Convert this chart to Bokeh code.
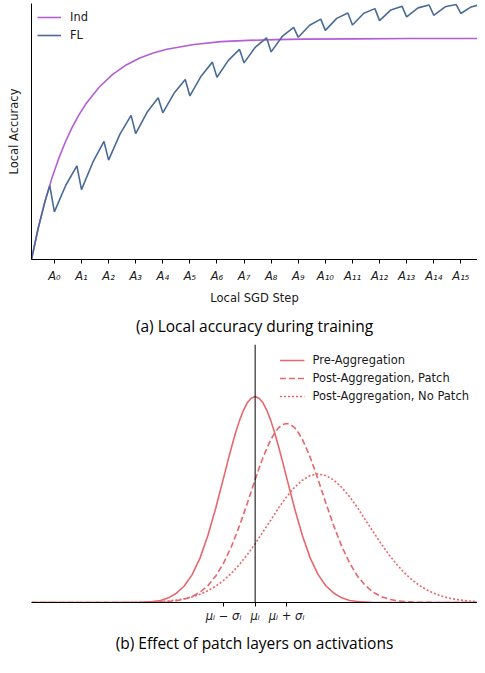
from bokeh.plotting import figure
from bokeh.models import FixedTicker, Span, Title, Legend, LegendItem
from bokeh.layouts import column
from bokeh.embed import file_html
from bokeh.resources import INLINE

# ---------------- panel (a): local accuracy ----------------
TICK_POS = [0, 1, 2, 3, 4, 5, 6, 7, 8, 9, 10, 11, 12, 13, 14, 15]
TICK_LABELS = ["A₀", "A₁", "A₂", "A₃", "A₄", "A₅", "A₆", "A₇",
               "A₈", "A₉", "A₁₀", "A₁₁", "A₁₂", "A₁₃", "A₁₄", "A₁₅"]

IND_X = [-0.845, -0.6, -0.35, -0.1, 0.15, 0.4, 0.65, 0.9, 1.15, 1.65, 2.15, 2.65,
         3.15, 3.65, 4.15, 5.15, 6.15, 7.15, 8.15, 9.15, 11.15, 13.15, 15.615]
IND_Y = [0.0, 0.121, 0.226, 0.315, 0.392, 0.458, 0.515, 0.564, 0.606, 0.673, 0.723, 0.760,
         0.787, 0.807, 0.821, 0.840, 0.851, 0.856, 0.859, 0.861, 0.862, 0.863, 0.863]

FL_X = [-0.845, -0.6, -0.35, -0.17, 0.0,
        0.42, 0.83, 1.0, 1.42, 1.83, 2.0, 2.42, 2.83, 3.0, 3.42, 3.83, 4.0,
        4.42, 4.83, 5.0, 5.42, 5.83, 6.0, 6.42, 6.83, 7.0, 7.42, 7.83, 8.0,
        8.42, 8.83, 9.0, 9.42, 9.83, 10.0, 10.42, 10.83, 11.0, 11.42, 11.83, 12.0,
        12.42, 12.83, 13.0, 13.42, 13.83, 14.0, 14.42, 14.83, 15.0,
        15.35, 15.615]
FL_Y = [0.0, 0.121, 0.226, 0.289, 0.186,
        0.29, 0.366, 0.273, 0.38, 0.461, 0.388, 0.49, 0.563, 0.492, 0.575, 0.632, 0.573,
        0.65, 0.703, 0.639, 0.717, 0.771, 0.712, 0.778, 0.821, 0.768, 0.83, 0.866, 0.811,
        0.873, 0.907, 0.868, 0.915, 0.939, 0.895, 0.942, 0.963, 0.916, 0.962, 0.980, 0.933,
        0.975, 0.989, 0.948, 0.983, 0.994, 0.954, 0.987, 0.996, 0.961,
        0.985, 0.993]

# ---------------- panel (b): activations ----------------
PRE_X = [-7.1, -3.75, -3.5, -3.25, -3.0, -2.75, -2.5, -2.25, -2.0, -1.75, -1.5, -1.25, -1.0,
         -0.875, -0.75, -0.625, -0.5, -0.375, -0.25, -0.125, 0.0, 0.125, 0.25, 0.375, 0.5,
         0.625, 0.75, 0.875, 1.0, 1.25, 1.5, 1.75, 2.0, 2.25, 2.5, 2.75, 3.0, 3.25, 3.5, 3.75, 7.06]
PRE_Y = [0.0, 0.0, 0.001, 0.002, 0.004, 0.009, 0.018, 0.032, 0.054, 0.086, 0.130, 0.183, 0.242,
         0.272, 0.301, 0.328, 0.352, 0.372, 0.387, 0.396, 0.399, 0.396, 0.387, 0.372, 0.352,
         0.328, 0.301, 0.272, 0.242, 0.183, 0.130, 0.086, 0.054, 0.032, 0.018, 0.009, 0.004,
         0.002, 0.001, 0.0, 0.0]

PATCH_X = [-7.1, -3.75, -3.5, -3.25, -3.0, -2.75, -2.5, -2.25, -2.0, -1.75, -1.5, -1.25, -1.0,
           -0.75, -0.5, -0.25, 0.0, 0.125, 0.25, 0.375, 0.5, 0.625, 0.75, 0.875, 1.0,
           1.125, 1.25, 1.375, 1.5, 1.625, 1.75, 1.875, 2.0, 2.25, 2.5, 2.75, 3.0, 3.25,
           3.5, 3.75, 4.0, 4.25, 4.5, 4.75, 5.0, 5.25, 5.5, 5.75, 7.06]
PATCH_Y = [0.0, 0.0001, 0.0002, 0.0004, 0.0008, 0.0017, 0.0034, 0.0064, 0.0116, 0.0199, 0.0327,
           0.0512, 0.0765, 0.109, 0.148, 0.192, 0.238, 0.260, 0.281, 0.299, 0.316, 0.329, 0.339,
           0.345, 0.347, 0.345, 0.339, 0.329, 0.316, 0.299, 0.281, 0.260, 0.238, 0.192, 0.148,
           0.109, 0.0765, 0.0512, 0.0327, 0.0199, 0.0116, 0.0064, 0.0034, 0.0017, 0.0008,
           0.0004, 0.0002, 0.0001, 0.0]

NOPATCH_X = [-7.1, -4.5, -4.25, -4.0, -3.75, -3.5, -3.25, -3.0, -2.75, -2.5, -2.25, -2.0,
             -1.75, -1.5, -1.25, -1.0, -0.75, -0.5, -0.25, 0.0, 0.25, 0.5, 0.75, 1.0, 1.25,
             1.5, 1.75, 2.0, 2.25, 2.5, 2.75, 3.0, 3.25, 3.5, 3.75, 4.0, 4.25, 4.5, 4.75,
             5.0, 5.25, 5.5, 5.75, 6.0, 6.25, 6.5, 6.75, 7.0, 7.06]
NOPATCH_Y = [0.0, 0.0, 0.0001, 0.0002, 0.0004, 0.0007, 0.0011, 0.0019, 0.0030, 0.0048, 0.0073,
             0.0109, 0.0160, 0.0228, 0.0317, 0.0429, 0.0568, 0.0735, 0.0926, 0.114, 0.137,
             0.160, 0.184, 0.205, 0.223, 0.237, 0.246, 0.249, 0.246, 0.237, 0.223, 0.205,
             0.184, 0.160, 0.137, 0.114, 0.0926, 0.0735, 0.0568, 0.0429, 0.0317, 0.0228,
             0.0160, 0.0109, 0.0073, 0.0048, 0.0030, 0.0019, 0.0017]

MU_TICKS = [-1, 0, 1]
MU_LABELS = ["μᵢ − σᵢ", "μᵢ", "μᵢ + σᵢ"]

FONT = "DejaVu Sans"
CAP_FONT = "Open Sans"
PURPLE = "#b35ed8"
BLUE = "#4a6b96"
RED = "#e8676d"
TXT = "#1a1a1a"


def style_xaxis(ax):
    ax.axis_line_color = "black"
    ax.axis_line_width = 1
    ax.major_tick_line_color = "black"
    ax.major_tick_out = 4
    ax.major_tick_in = 0
    ax.minor_tick_line_color = None
    ax.major_label_text_font = FONT
    ax.major_label_text_font_size = "11.5px"
    ax.major_label_text_font_style = "italic"
    ax.major_label_text_color = TXT
    ax.major_label_standoff = 5


def style_legend(leg):
    leg.border_line_color = None
    leg.background_fill_alpha = 0
    leg.label_text_font = FONT
    leg.label_text_font_size = "11.5px"
    leg.label_text_color = TXT
    leg.glyph_width = 25
    leg.glyph_height = 16
    leg.label_height = 16
    leg.spacing = 2
    leg.label_standoff = 8
    leg.padding = 3
    leg.margin = 4


# ---- figure (a)
p1 = figure(width=477, height=341, x_range=(-0.845, 15.615), y_range=(0, 1),
            output_backend="svg", toolbar_location=None,
            min_border_left=31, min_border_right=0, min_border_top=3, min_border_bottom=0)
p1.outline_line_color = None
p1.grid.visible = False
r_ind = p1.line(IND_X, IND_Y, line_color=PURPLE, line_width=1.6)
r_fl = p1.line(FL_X, FL_Y, line_color=BLUE, line_width=1.6)

xa = p1.xaxis[0]
style_xaxis(xa)
xa.ticker = FixedTicker(ticks=TICK_POS)
xa.major_label_overrides = {t: l for t, l in zip(TICK_POS, TICK_LABELS)}
xa.axis_label = "Local SGD Step"
xa.axis_label_text_font = FONT
xa.axis_label_text_font_size = "11.5px"
xa.axis_label_text_font_style = "normal"
xa.axis_label_text_color = TXT
xa.axis_label_standoff = 5

ya = p1.yaxis[0]
ya.ticker = FixedTicker(ticks=[])
ya.axis_line_color = "black"
ya.axis_line_width = 1
ya.major_tick_line_color = None
ya.minor_tick_line_color = None
ya.axis_label = "Local Accuracy"
ya.axis_label_text_font = FONT
ya.axis_label_text_font_size = "11.5px"
ya.axis_label_text_font_style = "normal"
ya.axis_label_text_color = TXT
ya.axis_label_standoff = 11

leg1 = Legend(items=[LegendItem(label="Ind", renderers=[r_ind]),
                     LegendItem(label="FL", renderers=[r_fl])],
              location="top_left")
style_legend(leg1)
leg1.glyph_width = 24
leg1.label_standoff = 9
leg1.margin = 6
p1.add_layout(leg1)

p1.add_layout(Title(text="(a) Local accuracy during training", align="center",
                    text_font=CAP_FONT, text_font_size="15.5px",
                    text_font_style="normal", text_color="black", standoff=10), "below")

# ---- figure (b)
p2 = figure(width=477, height=316, x_range=(-7.1, 7.06), y_range=(0, 0.5),
            output_backend="svg", toolbar_location=None,
            min_border_left=31, min_border_right=0, min_border_top=3, min_border_bottom=0)
p2.outline_line_color = None
p2.grid.visible = False
p2.yaxis.visible = False
r_pre = p2.line(PRE_X, PRE_Y, line_color=RED, line_width=1.6)
r_patch = p2.line(PATCH_X, PATCH_Y, line_color=RED, line_width=1.6, line_dash="6 3")
r_nopatch = p2.line(NOPATCH_X, NOPATCH_Y, line_color=RED, line_width=1.6, line_dash="2 2")
p2.add_layout(Span(location=0, dimension="height", line_color="black", line_width=1))

xb = p2.xaxis[0]
style_xaxis(xb)
xb.major_label_standoff = 2
xb.ticker = FixedTicker(ticks=MU_TICKS)
xb.major_label_overrides = {t: l for t, l in zip(MU_TICKS, MU_LABELS)}

leg2 = Legend(items=[LegendItem(label="Pre-Aggregation", renderers=[r_pre]),
                     LegendItem(label="Post-Aggregation, Patch", renderers=[r_patch]),
                     LegendItem(label="Post-Aggregation, No Patch", renderers=[r_nopatch])],
              location="top_right")
style_legend(leg2)
leg2.margin = 8
p2.add_layout(leg2)

p2.add_layout(Title(text="(b) Effect of patch layers on activations", align="center",
                    text_font=CAP_FONT, text_font_size="15.5px",
                    text_font_style="normal", text_color="black", standoff=8), "below")

layout = column(p1, p2, spacing=0)
open("out.html", "w").write(file_html(layout, INLINE))
